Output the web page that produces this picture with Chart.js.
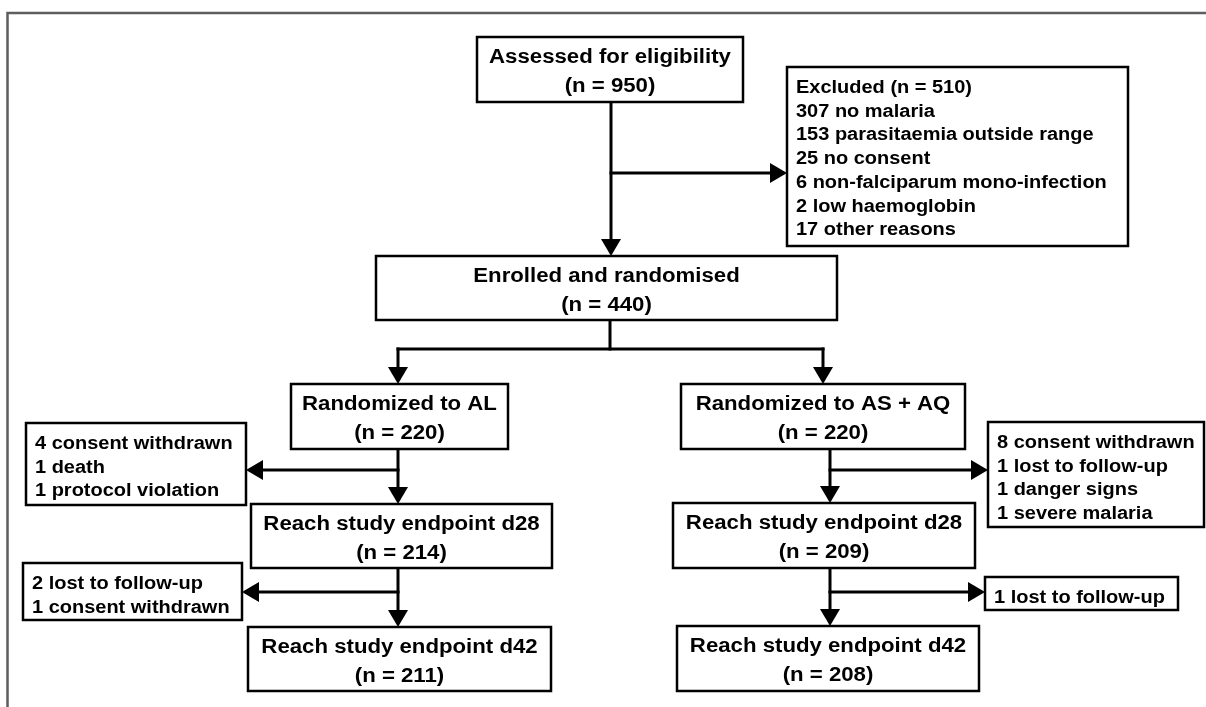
<!DOCTYPE html>
<html><head><meta charset="utf-8">
<script src="https://cdn.jsdelivr.net/npm/chart.js@4"></script>
<style>html,body{margin:0;background:#fff}#wrap{width:1206px;height:707px;position:relative}</style>
</head><body><div id="wrap"><canvas id="c"></canvas></div>
<script>
// trial flow stages and the number of patients at each
const STAGES = ["Assessed for eligibility","Enrolled and randomised","Randomized to AL","Randomized to AS + AQ",
  "Reach study endpoint d28","Reach study endpoint d28","Reach study endpoint d42","Reach study endpoint d42"];
const STAGE_N = [950,440,220,220,214,209,211,208];
// exclusions / losses
const EXCL_N = 510;
const EXCL_REASONS = ["no malaria","parasitaemia outside range","no consent","non-falciparum mono-infection","low haemoglobin","other reasons"];
const EXCL_COUNTS = [307,153,25,6,2,17];
const AL_D28_REASONS = ["consent withdrawn","death","protocol violation"];
const AL_D28_COUNTS = [4,1,1];
const AQ_D28_REASONS = ["consent withdrawn","lost to follow-up","danger signs","severe malaria"];
const AQ_D28_COUNTS = [8,1,1,1];
const AL_D42_REASONS = ["lost to follow-up","consent withdrawn"];
const AL_D42_COUNTS = [2,1];
const AQ_D42_REASONS = ["lost to follow-up"];
const AQ_D42_COUNTS = [1];

// ---- layout (chart units, y grows downward) ----
const STAGE_BOX = [[477,37,743,102],[376,256,837,320],[291,384,508,449],[681,384,965,449],
  [251,504,552,568],[673,503,975,568],[248,627,551,691],[677,626,979,691]];
const SIDE_BOX = [[787,67,1128,246],[26,423,246,505],[988,422,1204,527],[23,563,242,620],[985,577,1178,610]];
// [x0,y0,x1,y1,arrowhead]
const LINKS = [[611,102,611,256,1],[611,173,787,173,1],[610,320,610,349,0],[398,349,823,349,0],
  [398,349,398,384,1],[823,349,823,384,1],[398,449,398,504,1],[398,470,246,470,1],
  [398,568,398,627,1],[398,592,242,592,1],[830,449,830,503,1],[830,470,988,470,1],
  [830,568,830,626,1],[830,592,985,592,1]];

const FONT = '"Liberation Sans", Arial, sans-serif', STRETCH = 1.11;
const lines = (rs,cs)=>rs.map((r,i)=>cs[i]+" "+r);
const SIDE_TEXT = [["Excluded (n = "+EXCL_N+")"].concat(lines(EXCL_REASONS,EXCL_COUNTS)),
  lines(AL_D28_REASONS,AL_D28_COUNTS), lines(AQ_D28_REASONS,AQ_D28_COUNTS),
  lines(AL_D42_REASONS,AL_D42_COUNTS), lines(AQ_D42_REASONS,AQ_D42_COUNTS)];

function text(ctx,s,x,y,align){
  ctx.save(); ctx.translate(x,y); ctx.scale(STRETCH,1); ctx.textAlign=align; ctx.fillText(s,0,0); ctx.restore();
}

const flowPlugin = {
  id:"flow",
  afterDraw(chart){
    const ctx=chart.ctx, sx=chart.scales.x, sy=chart.scales.y;
    const X=v=>sx.getPixelForValue(v), Y=v=>sy.getPixelForValue(v);
    ctx.save();
    // outer frame (cropped on right and bottom)
    ctx.strokeStyle="#5e5e5e"; ctx.lineWidth=2.5;
    ctx.strokeRect(X(7.5),Y(13),X(1215)-X(7.5),Y(720)-Y(13));
    ctx.strokeStyle="#000"; ctx.fillStyle="#000"; ctx.textBaseline="alphabetic";
    // connectors
    ctx.lineWidth=3; ctx.lineCap="square";
    LINKS.forEach(([x0,y0,x1,y1,a])=>{
      const px0=X(x0),py0=Y(y0),px1=X(x1),py1=Y(y1);
      const L=Math.hypot(px1-px0,py1-py0), ux=(px1-px0)/L, uy=(py1-py0)/L, hl=17, hw=10;
      const ex=a?px1-ux*hl:px1, ey=a?py1-uy*hl:py1;
      ctx.beginPath(); ctx.moveTo(px0,py0); ctx.lineTo(ex,ey); ctx.stroke();
      if(a){ ctx.beginPath(); ctx.moveTo(px1,py1); ctx.lineTo(ex-uy*hw,ey+ux*hw); ctx.lineTo(ex+uy*hw,ey-ux*hw); ctx.closePath(); ctx.fill(); }
    });
    // stage boxes
    ctx.lineWidth=2.5; ctx.font="bold 20px "+FONT;
    STAGE_BOX.forEach(([x0,y0,x1,y1],i)=>{
      ctx.fillStyle="#fff"; ctx.fillRect(X(x0),Y(y0),X(x1)-X(x0),Y(y1)-Y(y0));
      ctx.strokeRect(X(x0),Y(y0),X(x1)-X(x0),Y(y1)-Y(y0));
      ctx.fillStyle="#000"; const cx=X((x0+x1)/2);
      text(ctx,STAGES[i],cx,Y(y0+26),"center");
      text(ctx,"(n = "+STAGE_N[i]+")",cx,Y(y0+54.5),"center");
    });
    // side boxes
    ctx.font="bold 18px "+FONT;
    SIDE_BOX.forEach(([x0,y0,x1,y1],i)=>{
      ctx.fillStyle="#fff"; ctx.fillRect(X(x0),Y(y0),X(x1)-X(x0),Y(y1)-Y(y0));
      ctx.strokeRect(X(x0),Y(y0),X(x1)-X(x0),Y(y1)-Y(y0));
      ctx.fillStyle="#000";
      SIDE_TEXT[i].forEach((s,k)=>text(ctx,s,X(x0+9),Y(y0+26+k*23.7),"left"));
    });
    ctx.restore();
  }
};

new Chart(document.getElementById("c"),{
  type:"scatter",
  data:{datasets:[{data:STAGE_BOX.map((b,i)=>({x:(b[0]+b[2])/2,y:(b[1]+b[3])/2,n:STAGE_N[i]})),pointRadius:0}]},
  options:{responsive:true,maintainAspectRatio:false,animation:false,
    layout:{padding:0},
    scales:{x:{type:"linear",min:0,max:1206,display:false},y:{type:"linear",min:0,max:707,reverse:true,display:false}},
    plugins:{legend:{display:false},tooltip:{enabled:false}}},
  plugins:[flowPlugin]
});
</script></body></html>
